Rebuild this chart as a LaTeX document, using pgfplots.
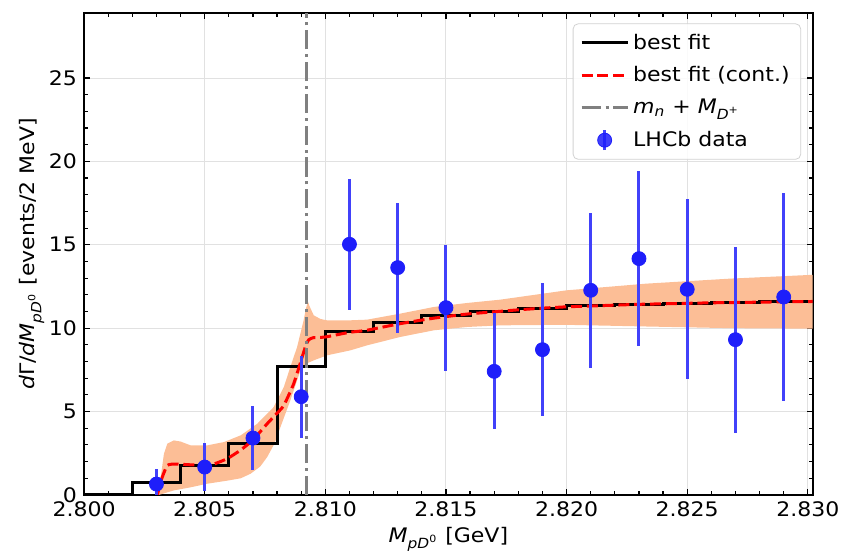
\documentclass[border=0pt]{standalone}
\usepackage{fontspec}
\setmainfont{DejaVu Sans}[FakeStretch=1.1]
\usepackage{pgfplots}
\pgfplotsset{compat=1.18}
\usepackage{pgfplotstable}
\usepgfplotslibrary{fillbetween}

\definecolor{bandcol}{RGB}{252,190,150}
\definecolor{datablue}{RGB}{30,30,250}
\definecolor{barblue}{RGB}{65,65,250}
\definecolor{gridcol}{RGB}{225,225,225}

\pgfplotstableread{
x y e
2.803 0.65 0.90
2.805 1.67 1.42
2.807 3.41 1.90
2.809 5.89 2.45
2.811 15.03 3.93
2.813 13.63 3.90
2.815 11.23 3.77
2.817 7.41 3.47
2.819 8.71 4.00
2.821 12.27 4.65
2.823 14.17 5.24
2.825 12.33 5.40
2.827 9.31 5.58
2.829 11.87 6.24
}\datatable

\pgfplotstableread{
x y
2.800 0
2.802 0.73
2.804 1.79
2.806 3.11
2.808 7.71
2.810 9.81
2.812 10.35
2.814 10.75
2.816 11.00
2.818 11.17
2.820 11.33
2.822 11.43
2.824 11.49
2.826 11.53
2.828 11.57
2.8302 11.57
}\steptable

\pgfplotstableread{
x y
2.80304 0.00
2.80320 0.90
2.80345 1.77
2.80380 1.85
2.80450 1.80
2.80500 1.80
2.80537 1.85
2.80593 2.17
2.80650 2.70
2.80700 3.30
2.80759 4.27
2.80800 4.90
2.80828 5.37
2.80869 6.67
2.80904 8.27
2.80920 9.00
2.80931 9.30
2.80950 9.43
2.81000 9.47
2.81100 9.75
2.81170 9.87
2.81310 10.27
2.81450 10.60
2.81590 10.85
2.81700 10.98
2.81800 11.10
2.81900 11.20
2.82000 11.28
2.82100 11.33
2.82200 11.38
2.82300 11.43
2.82400 11.46
2.82500 11.49
2.82600 11.52
2.82700 11.54
2.82800 11.56
2.82900 11.58
2.83020 11.60
}\conttable

\pgfplotstableread{
x y
2.80310 0.00
2.80320 1.30
2.80331 2.47
2.80345 3.07
2.80372 3.27
2.80400 3.20
2.80442 2.97
2.80510 2.97
2.80580 3.17
2.80649 3.57
2.80718 4.27
2.80786 5.27
2.80828 6.47
2.80855 7.67
2.80883 8.87
2.80910 10.47
2.80920 11.20
2.80928 11.60
2.80935 11.30
2.80952 10.77
2.80980 10.55
2.81007 10.47
2.81100 10.47
2.81173 10.51
2.81310 10.87
2.81449 11.27
2.81587 11.51
2.81725 11.71
2.82000 12.27
2.82330 12.67
2.82677 12.97
2.83020 13.20
}\uppertable

\pgfplotstableread{
x y
2.80310 0.00
2.80372 0.27
2.80440 0.45
2.80510 0.67
2.80600 0.87
2.80650 1.00
2.80690 1.27
2.80730 1.70
2.80759 2.27
2.80790 3.10
2.80814 4.07
2.80855 5.67
2.80897 7.47
2.80925 7.90
2.80952 8.07
2.81007 8.37
2.81104 8.67
2.81173 8.97
2.81310 9.47
2.81449 9.87
2.81587 10.07
2.81725 10.17
2.82000 10.20
2.82330 10.10
2.82680 10.00
2.83020 9.97
}\lowertable

\begin{document}
\begin{tikzpicture}
\begin{axis}[
  scale only axis,
  width=364pt, height=240.75pt,
  xmin=2.800, xmax=2.8302,
  ymin=0, ymax=28.9,
  xtick={2.800,2.805,2.810,2.815,2.820,2.825,2.830},
  ytick={0,5,10,15,20,25},
  minor x tick num=4,
  minor y tick num=4,
  scaled x ticks=false,
  xticklabel style={/pgf/number format/.cd, fixed, fixed zerofill, precision=3, assume math mode=true},
  yticklabel style={/pgf/number format/assume math mode=true},
  tick label style={font=\fontsize{10}{12}\selectfont},
  label style={font=\fontsize{10}{12}\selectfont},
  tick align=inside,
  major tick length=3pt,
  minor tick length=1.75pt,
  tick style={line width=0.6pt, black},
  axis line style={line width=1pt},
  grid=major,
  grid style={gridcol, line width=0.5pt},
  xlabel={\textit{M}\textsubscript{\textit{pD}\textsuperscript{0}} [GeV]},
  ylabel={\textit{d}Γ/\textit{dM}\textsubscript{\textit{pD}\textsuperscript{0}} [events/2 MeV]},
  xlabel style={at={(axis description cs:0.5,-0.0924)}, anchor=center},
  ylabel style={at={(axis description cs:-0.0714,0.5)}, anchor=center},
  legend cell align=left,
  legend style={at={(axis description cs:1,1)}, anchor=north east, xshift=-5.8pt, yshift=-5.2pt,
    draw=gray!35, rounded corners=2.5pt, fill=white, fill opacity=0.85, text opacity=1,
    inner xsep=3.5pt, inner ysep=3pt, row sep=3.2pt,
    font=\fontsize{10}{12}\selectfont},
]
\coordinate (SW) at (rel axis cs:0,0);
\coordinate (NE) at (rel axis cs:1,1);

\addplot[draw=none, name path=up, forget plot] table[x=x,y=y] {\uppertable};
\addplot[draw=none, name path=lo, forget plot] table[x=x,y=y] {\lowertable};
\addplot[fill=bandcol, draw=none, forget plot] fill between[of=up and lo];

\addplot[black, line width=1.5pt, const plot,
  legend image code/.code={\draw[black, line width=1.5pt] (0pt,0pt) -- (23pt,0pt);}]
  table[x=x,y=y] {\steptable};
\addlegendentry{best fit}

\addplot[red, line width=1.5pt, dash pattern=on 5.5pt off 2.4pt, smooth, tension=0.3,
  legend image code/.code={\draw[red, line width=1.5pt, dash pattern=on 5.5pt off 2.4pt] (0pt,0pt) -- (23pt,0pt);}]
  table[x=x,y=y] {\conttable};
\addlegendentry{best fit (cont.)}

\addplot[gray, line width=1.5pt, dash pattern=on 9.6pt off 2.4pt on 1.5pt off 2.4pt,
  legend image code/.code={\draw[gray, line width=1.5pt, dash pattern=on 9.6pt off 2.4pt on 1.5pt off 2.4pt] (0pt,0pt) -- (23pt,0pt);}]
  coordinates {(2.80923,0) (2.80923,28.9)};
\addlegendentry{\textit{m}\textsubscript{\textit{n}} + \textit{M}\textsubscript{\textit{D}\textsuperscript{+}}}

\addplot[datablue, only marks, mark=*, mark size=3.5pt, mark options={draw=datablue, fill=datablue},
  error bars/.cd, y dir=both, y explicit, error mark=none,
  error bar style={line width=1.5pt, barblue},
  /pgfplots/legend image code/.code={\draw[barblue, line width=1.5pt] (11.5pt,-5pt) -- (11.5pt,5pt); \fill[datablue] (11.5pt,0pt) circle (3.5pt);}]
  table[x=x,y=y,y error=e] {\datatable};
\addlegendentry{LHCb data}
\end{axis}
\pgfresetboundingbox
\path[use as bounding box] ([xshift=-42pt,yshift=-28.75pt]SW) rectangle ([xshift=14.15pt,yshift=6.5pt]NE);
\end{tikzpicture}
\end{document}
